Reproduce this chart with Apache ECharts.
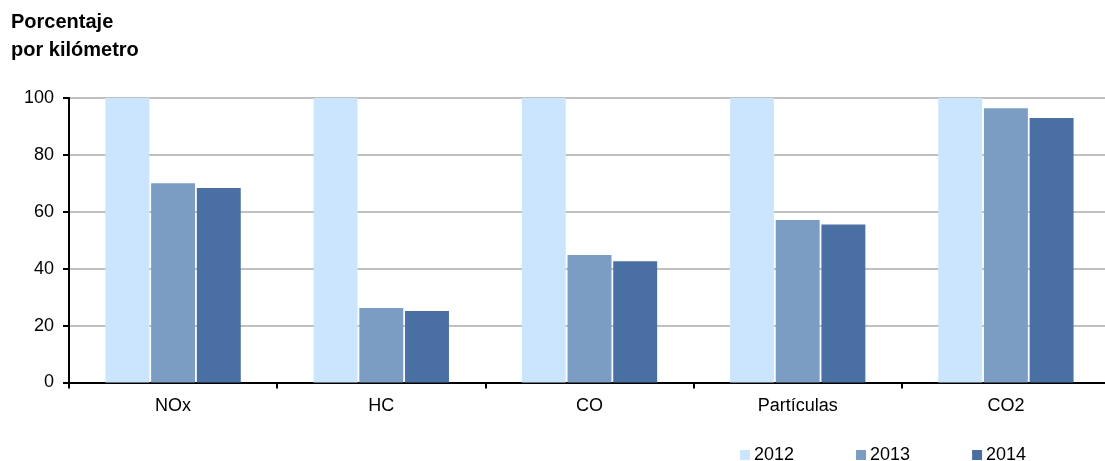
<!DOCTYPE html>
<html>
<head>
<meta charset="utf-8">
<script src="https://cdn.jsdelivr.net/npm/echarts@6/dist/echarts.min.js"></script>
<style>
  html, body { margin: 0; padding: 0; background: #fff; }
  #chart { width: 1105px; height: 461px; }
</style>
</head>
<body>
<div id="chart"></div>
<script>
const categories = ['NOx', 'HC', 'CO', 'Partículas', 'CO2'];
const years = ['2012', '2013', '2014'];
const values2012 = [100, 100, 100, 100, 100];
const values2013 = [70, 26.2, 44.8, 57.1, 96.4];
const values2014 = [68.4, 25.1, 42.6, 55.5, 93];
const yTicks = [0, 20, 40, 60, 80, 100];
const colors = ['#cce5ff', '#7b9dc4', '#4a6fa2'];

const chart = echarts.init(document.getElementById('chart'));

const seriesData = [values2012, values2013, values2014];

const option = {
  backgroundColor: '#fff',
  animation: false,
  textStyle: { fontFamily: 'Liberation Sans, Arial, sans-serif' },
  title: {
    text: 'Porcentaje\npor kilómetro',
    left: 6,
    top: 3,
    textStyle: {
      color: '#000',
      fontSize: 20,
      fontWeight: 'bold',
      lineHeight: 28,
      fontFamily: 'Liberation Sans, Arial, sans-serif',
    },
  },
  legend: {
    data: years,
    left: 735,
    top: 441,
    itemWidth: 10,
    itemHeight: 10,
    itemGap: 62,
    icon: 'rect',
    textStyle: { color: '#000', fontSize: 18, padding: [0, 0, 0, -1] },
  },
  grid: {
    left: 69,
    width: 1041,
    top: 98,
    bottom: 78.5,
    outerBoundsMode: 'none',
    containLabel: false,
  },
  xAxis: {
    type: 'category',
    data: categories,
    axisLine: { lineStyle: { color: '#000', width: 2 } },
    axisTick: { show: true, length: 6, lineStyle: { color: '#000', width: 2 } },
    axisLabel: { color: '#000', fontSize: 18, margin: 15 },
  },
  yAxis: {
    type: 'value',
    min: yTicks[0],
    max: yTicks[yTicks.length - 1],
    interval: 20,
    axisLine: { show: true, lineStyle: { color: '#000', width: 2 } },
    axisTick: { show: true, length: 6, lineStyle: { color: '#000', width: 2 } },
    axisLabel: { color: '#000', fontSize: 18, margin: 15 },
    splitLine: { lineStyle: { color: '#c0c0c0', width: 2 } },
  },
  series: years.map((y, i) => ({
    name: y,
    type: 'bar',
    data: seriesData[i],
    barCategoryGap: '35%',
    barGap: '4%',
    itemStyle: { color: colors[i] },
  })),
};

chart.setOption(option);
</script>
</body>
</html>
